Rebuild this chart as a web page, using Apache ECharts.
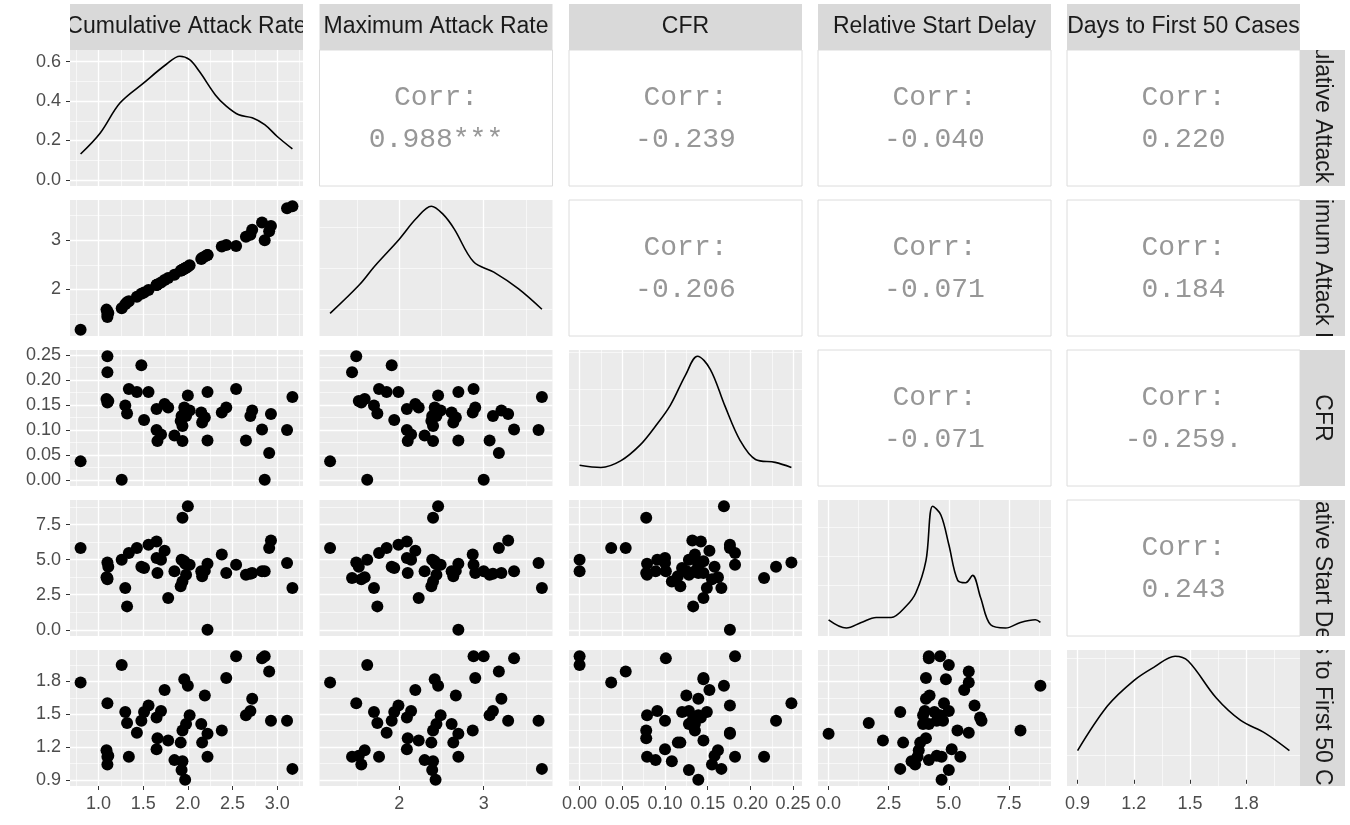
<!DOCTYPE html>
<html>
<head>
<meta charset="utf-8">
<script src="https://cdn.jsdelivr.net/npm/echarts@6/dist/echarts.min.js"></script>
<style>
  html, body { margin: 0; padding: 0; background: #fff; }
  #main { width: 1350px; height: 825px; }
</style>
</head>
<body>
<div id="main"></div>
<script>
// variables (one entry per region)
var varNames = ['Cumulative Attack Rate', 'Maximum Attack Rate', 'CFR', 'Relative Start Delay', 'Days to First 50 Cases'];
var cumAttack = [0.80,1.10,1.10,1.09,1.10,1.11,1.26,1.30,1.32,1.34,1.43,1.48,1.51,1.56,1.65,1.70,1.66,1.65,1.74,1.78,1.85,1.92,1.93,1.94,1.97,1.96,2.00,1.94,1.98,2.02,2.15,2.16,2.22,2.19,2.22,2.38,2.43,2.54,2.65,2.70,2.72,2.83,2.86,2.91,2.93,3.11,3.17];
var maxAttack = [1.18,1.49,1.44,1.59,1.55,1.52,1.62,1.70,1.74,1.76,1.85,1.91,1.94,1.99,2.09,2.14,2.10,2.09,2.19,2.23,2.30,2.38,2.39,2.40,2.43,2.42,2.46,2.40,2.44,2.49,2.62,2.64,2.70,2.67,2.70,2.87,2.90,2.88,3.07,3.11,3.21,3.36,3.00,3.18,3.29,3.65,3.69];
var cfr = [0.037,0.248,0.216,0.162,0.155,0.158,0.0,0.149,0.133,0.182,0.176,0.23,0.12,0.176,0.142,0.091,0.078,0.10,0.152,0.145,0.089,0.118,0.128,0.108,0.139,0.145,0.169,0.078,0.128,0.139,0.135,0.115,0.176,0.125,0.079,0.135,0.145,0.182,0.079,0.128,0.139,0.101,0.0,0.054,0.132,0.10,0.166];
var startDelay = [5.83,4.8,3.7,3.75,3.6,4.5,5.0,2.98,1.67,5.48,5.83,4.5,4.4,6.07,6.3,5.0,4.05,5.12,5.64,2.26,4.17,3.1,5.0,3.45,4.7,4.88,8.81,7.98,3.93,4.64,4.17,3.81,0.0,4.2,4.7,5.36,4.05,4.64,3.93,4.0,4.05,4.17,4.17,5.83,6.36,4.76,2.98];
var daysTo50 = [1.79,1.60,1.11,1.17,1.04,1.12,1.95,1.52,1.42,1.11,1.33,1.44,1.52,1.58,1.47,1.53,1.28,1.18,1.72,1.26,1.08,1.24,0.99,1.07,0.90,1.82,1.76,1.35,1.41,1.49,1.41,1.24,1.32,1.67,1.11,1.35,1.83,2.03,1.49,1.53,1.64,2.01,2.03,1.89,1.44,1.44,1.00];

// density curves on the diagonal
var densCum = [[0.80,0.131],[1.02,0.238],[1.24,0.39],[1.5,0.49],[1.76,0.587],[1.91,0.628],[2.02,0.61],[2.13,0.55],[2.31,0.43],[2.43,0.374],[2.57,0.33],[2.72,0.315],[2.86,0.28],[3.0,0.22],[3.17,0.157]];
var densMax = [[1.18,0.08],[1.53,0.22],[1.71,0.31],[2.0,0.44],[2.2,0.54],[2.38,0.6],[2.52,0.56],[2.65,0.49],[2.88,0.33],[3.12,0.28],[3.41,0.2],[3.69,0.1]];
var densCfr = [[0,1.0],[0.025,0.85],[0.048,1.3],[0.071,2.4],[0.089,3.7],[0.106,5.1],[0.124,7.2],[0.138,8.5],[0.153,7.6],[0.17,5.1],[0.188,2.7],[0.206,1.4],[0.229,1.2],[0.248,0.85]];
var densDelay = [[0,0.034],[0.74,0.006],[1.36,0.025],[1.98,0.042],[2.6,0.042],[3.22,0.08],[3.63,0.126],[4.05,0.235],[4.33,0.42],[4.67,0.39],[5.0,0.29],[5.37,0.168],[5.7,0.16],[5.99,0.185],[6.32,0.11],[6.74,0.017],[7.36,0.006],[7.98,0.025],[8.6,0.034],[8.81,0.025]];
var densDays = [[0.9,0.30],[1.06,0.76],[1.2,1.02],[1.31,1.16],[1.42,1.27],[1.49,1.22],[1.64,0.84],[1.77,0.61],[1.9,0.48],[2.03,0.30]];

// tick labels
var cumTicks = [1.0, 1.5, 2.0, 2.5, 3.0];
var maxTicks = [2, 3];
var cfrTicks = [0, 0.05, 0.10, 0.15, 0.20, 0.25];
var delayTicks = [0, 2.5, 5.0, 7.5];
var daysTicks = [0.9, 1.2, 1.5, 1.8];
var densCumTicks = [0, 0.2, 0.4, 0.6];
var tickDigits = [1, 0, 2, 1, 1];
var densSteps = [0.2, 0.2, 2.5, 0.1, 0.5];

// upper triangle correlation labels
var corrText = {
  '0-1': '0.988***', '0-2': '-0.239', '0-3': '-0.040', '0-4': '0.220',
  '1-2': '-0.206', '1-3': '-0.071', '1-4': '0.184',
  '2-3': '-0.071', '2-4': '-0.259.',
  '3-4': '0.243'
};

var vars = [cumAttack, maxAttack, cfr, startDelay, daysTo50];
var ticks = [cumTicks, maxTicks, cfrTicks, delayTicks, daysTicks];
var dens = [densCum, densMax, densCfr, densDelay, densDays];

var colLeft = [70, 319.5, 569, 818, 1067];
var rowTop = [50, 200, 350, 500, 650];
var panelW = 233, panelH = 136;

function expand(arr) {
  var lo = Math.min.apply(null, arr), hi = Math.max.apply(null, arr), s = hi - lo;
  return [lo - 0.05 * s, hi + 0.05 * s];
}

function axis(gridIndex, rng, tickVals, step, showLabels, digits) {
  return {
    type: 'value', gridIndex: gridIndex, min: rng[0], max: rng[1],
    minInterval: step, maxInterval: step,
    axisLine: { show: false },
    axisTick: { show: showLabels, length: 4, lineStyle: { color: '#333', width: 1 }, customValues: tickVals },
    axisLabel: {
      show: showLabels, customValues: tickVals, margin: 9,
      fontFamily: 'Liberation Sans', fontSize: 18, color: '#4d4d4d',
      formatter: function (v) { return Number(v).toFixed(digits); }
    },
    splitLine: { show: true, lineStyle: { color: '#ffffff', width: 1.3 } },
    minorTick: { show: false, splitNumber: 2 },
    minorSplitLine: { show: true, lineStyle: { color: '#ffffff', width: 0.6 } }
  };
}

var grids = [], xAxes = [], yAxes = [], series = [], graphics = [];
var corrFont = '28px "Liberation Mono"';

for (var i = 0; i < 5; i++) {
  for (var j = 0; j < 5; j++) {
    if (j > i) {
      // upper panel: correlation text
      graphics.push({ type: 'rect', shape: { x: colLeft[j], y: rowTop[i], width: panelW, height: panelH },
        style: { fill: '#ffffff', stroke: '#dcdcdc', lineWidth: 1 } });
      graphics.push({ type: 'text', x: colLeft[j] + panelW / 2, y: rowTop[i] + 48,
        style: { text: 'Corr:', font: corrFont, fill: '#979797', align: 'center', verticalAlign: 'middle', textAlign: 'center', textVerticalAlign: 'middle' } });
      graphics.push({ type: 'text', x: colLeft[j] + panelW / 2, y: rowTop[i] + 90,
        style: { text: corrText[i + '-' + j], font: corrFont, fill: '#979797', align: 'center', verticalAlign: 'middle', textAlign: 'center', textVerticalAlign: 'middle' } });
      continue;
    }
    var g = grids.length;
    grids.push({ left: colLeft[j], top: rowTop[i], width: panelW, height: panelH, show: true,
      backgroundColor: '#ebebeb', borderWidth: 0 });
    var xr = expand(vars[j]);
    xAxes.push(axis(g, xr, ticks[j], ticks[j][1] - ticks[j][0], i === 4, tickDigits[j]));
    if (i === j) {
      var peak = Math.max.apply(null, dens[i].map(function (p) { return p[1]; }));
      yAxes.push(axis(g, [-0.05 * peak, 1.05 * peak], i === 0 ? densCumTicks : [], densSteps[i], j === 0, 1));
      series.push({ type: 'line', xAxisIndex: g, yAxisIndex: g, data: dens[i], smooth: 0.35,
        showSymbol: false, lineStyle: { color: '#000', width: 1.6 }, silent: true });
    } else {
      var yr = expand(vars[i]);
      yAxes.push(axis(g, yr, ticks[i], ticks[i][1] - ticks[i][0], j === 0, tickDigits[i]));
      var pts = vars[j].map(function (x, n) { return [x, vars[i][n]]; });
      series.push({ type: 'scatter', xAxisIndex: g, yAxisIndex: g, data: pts, symbolSize: 12,
        itemStyle: { color: '#000', opacity: 1 }, silent: true });
    }
  }
}

// strips: top (columns) and right (rows), text clipped to the strip box
function stripSeries(side) {
  return {
    type: 'custom', coordinateSystem: 'none', silent: true,
    data: varNames.map(function (n, k) { return [k]; }),
    renderItem: function (params) {
      var k = params.dataIndex;
      var box = side === 'top'
        ? { x: colLeft[k], y: 4, width: panelW, height: 46 }
        : { x: 1300, y: rowTop[k], width: 45, height: panelH };
      var cx = box.x + box.width / 2, cy = box.y + box.height / 2;
      return {
        type: 'group',
        children: [
          { type: 'rect', shape: box, style: { fill: '#d9d9d9' } },
          { type: 'group', clipPath: { type: 'rect', shape: box }, children: [
            { type: 'text', x: cx, y: cy, rotation: side === 'top' ? 0 : -Math.PI / 2,
              style: { text: varNames[k], font: '23px "Liberation Sans"', fill: '#1a1a1a',
                align: 'center', verticalAlign: 'middle', textAlign: 'center', textVerticalAlign: 'middle' } }
          ] }
        ]
      };
    }
  };
}
series.push(stripSeries('top'));
series.push(stripSeries('right'));

var myChart = echarts.init(document.getElementById('main'));
myChart.setOption({
  animation: false,
  grid: grids,
  xAxis: xAxes,
  yAxis: yAxes,
  series: series,
  graphic: { elements: graphics }
});
</script>
</body>
</html>
